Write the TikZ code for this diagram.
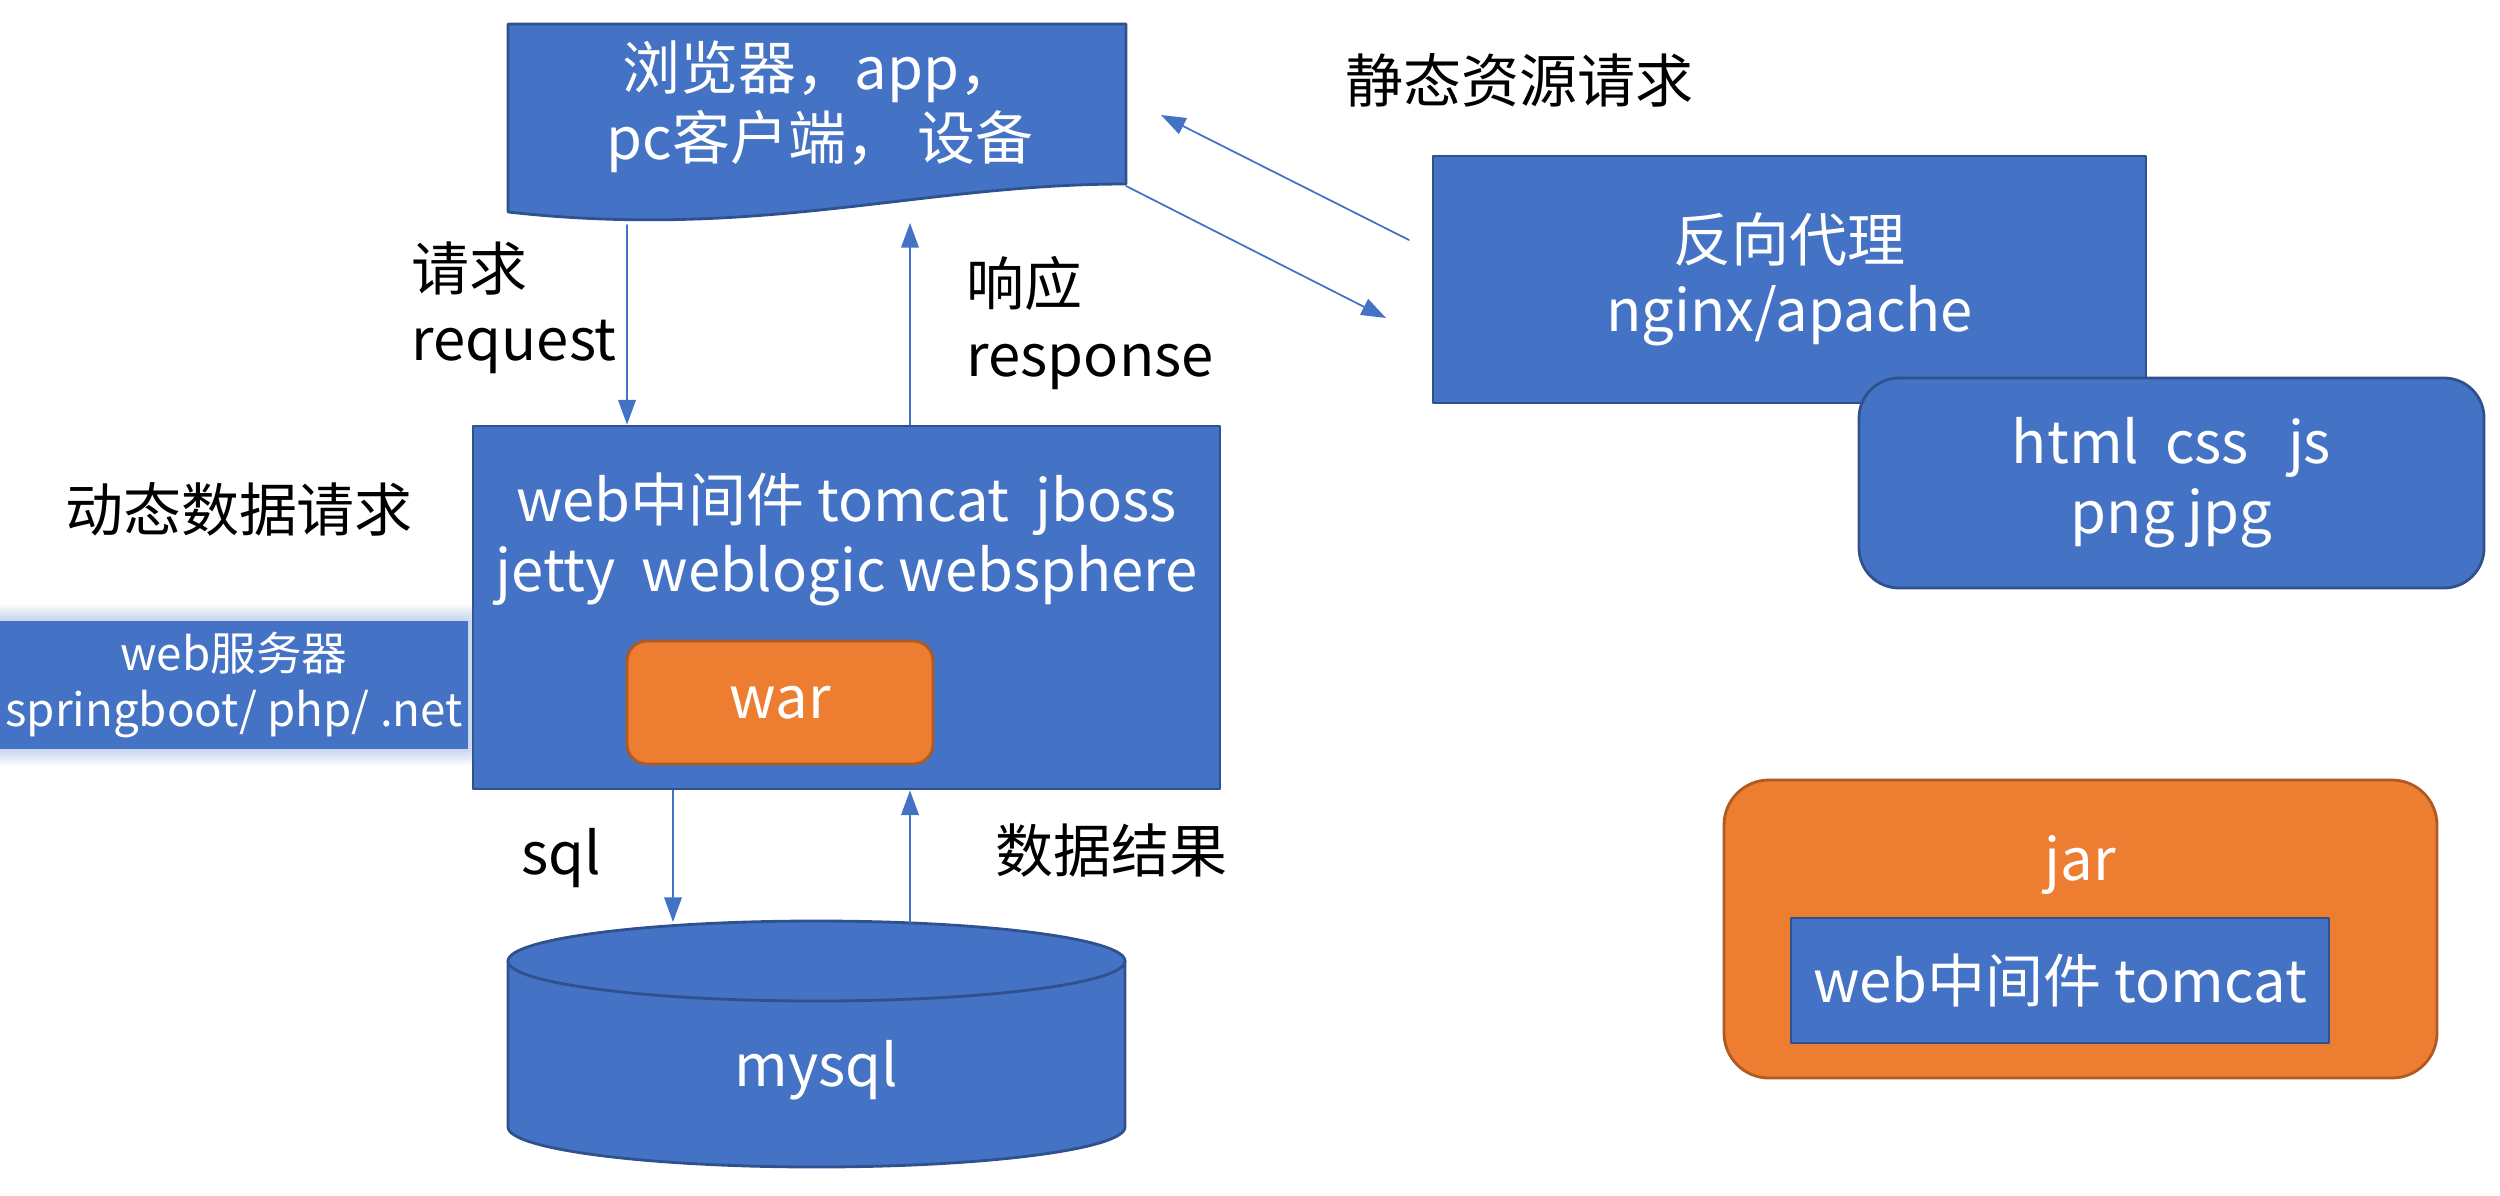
\documentclass[tikz,border=0pt]{standalone}
\usepackage{fontspec}
\setmainfont{Noto Sans CJK SC}
\usetikzlibrary{arrows.meta,calc}
\definecolor{boxblue}{HTML}{4472C4}
\definecolor{boxline}{HTML}{2F528F}
\definecolor{boxorange}{HTML}{ED7D31}
\definecolor{orangeline}{HTML}{AE5A21}
\tikzset{
	bluebox/.style={draw=boxline, fill=boxblue, line width=0.8pt, text=white, align=center, inner sep=0pt},
	orangebox/.style={draw=orangeline, fill=boxorange, line width=0.8pt, text=white, align=center, inner sep=0pt},
	whitetxt/.style={text=white, align=center, inner sep=0pt},
	lbl/.style={text=black, align=left, inner sep=0pt},
	arr/.style={draw=boxblue, line width=0.5pt, -{Triangle[length=7pt,width=5pt]}}
}
\begin{document}
\begin{tikzpicture}[font=\fontsize{16.5}{20}\selectfont, line join=round, line cap=round]
	\useasboundingbox (0,0) rectangle (25,-11.95);
	%% client (document shape)
	\draw[boxline, fill=boxblue, line width=0.8pt] (5.08,-0.24) -- (11.26,-0.24) -- (11.26,-1.84)
		.. controls (9.2,-1.84) and (7.6,-2.40) .. (5.08,-2.12) -- cycle;
	\node[whitetxt] (client) at (8.20,-1.07) {浏览器，app，\\pc客户端， 设备};
	%% reverse proxy
	\node[bluebox, minimum width=7.13cm, minimum height=2.47cm] (proxy) at (17.895,-2.795) {反向代理\\nginx/apache};
	\node[bluebox, rounded corners=0.4cm, minimum width=6.25cm, minimum height=2.10cm] (static) at (21.715,-4.83) {html\ \ css\ \ \ js\\png jpg};
	%% web middleware
	\node[bluebox, minimum width=7.47cm, minimum height=3.63cm] (mid) at (8.465,-6.075) {};
	\node[whitetxt] (midtxt) at ($(mid.north)+(0,-1.145)$) {web中间件 tomcat\ \ jboss\\jetty\ \ weblogic websphere};
	\node[orangebox, rounded corners=0.2cm, minimum width=3.06cm, minimum height=1.23cm] (war) at (7.80,-7.025) {war};
	%% web server (soft glow)
	\foreach \w in {9,7.5,6,4.5,3,1.5}
		\draw[boxblue, line width=\w pt, opacity=0.05, line join=round] (0,-6.21) rectangle (4.68,-7.49);
	\node[whitetxt, fill=boxblue, minimum width=4.68cm, minimum height=1.28cm, font=\fontsize{13}{16}\selectfont] (srv) at (2.34,-6.85) {web服务器\\springboot/ php/ .net};
	%% mysql
	\fill[boxblue] (5.08,-9.61) -- (5.08,-11.27) arc[start angle=180, end angle=360, x radius=3.085, y radius=0.40] -- (11.25,-9.61) -- cycle;
	\draw[boxline, line width=0.8pt] (5.08,-9.61) -- (5.08,-11.27) arc[start angle=180, end angle=360, x radius=3.085, y radius=0.40] -- (11.25,-9.61);
	\draw[boxline, fill=boxblue, line width=0.8pt] (8.165,-9.61) ellipse[x radius=3.085, y radius=0.40];
	\node[whitetxt] (db) at (8.165,-10.70) {mysql};
	\coordinate (dbtop) at (8.165,-9.21);
	%% jar
	\node[orangebox, rounded corners=0.45cm, minimum width=7.13cm, minimum height=2.98cm] (jar) at (20.805,-9.29) {};
	\node[whitetxt] (jartxt) at (20.80,-8.65) {jar};
	\node[bluebox, minimum width=5.38cm, minimum height=1.25cm] (inner) at (20.60,-9.805) {web中间件 tomcat};
	%% labels
	\node[lbl] (staticlbl) at (15.19,-0.80) {静态资源请求};
	\node[lbl, anchor=west] (reqlbl) at (4.11,-3.08) {请求\\request};
	\node[lbl, anchor=west] (resplbl) at (9.66,-3.23) {响应\\response};
	\node[lbl] (dynlbl) at (2.39,-5.09) {动态数据请求};
	\node[lbl] (sqllbl) at (5.61,-8.58) {sql};
	\node[lbl] (reslbl) at (11.11,-8.51) {数据结果};
	%% arrows
	\coordinate (reqtop) at (6.27,-2.25);
	\coordinate (resptop) at (9.10,-2.23);
	\coordinate (sqlx) at (6.73,0);
	\coordinate (resx) at (9.10,0);
	\draw[arr] (reqtop) -- (reqtop |- mid.north);
	\draw[arr] (resptop |- mid.north) -- (resptop);
	\draw[arr] (sqlx |- mid.south) -- ($(sqlx |- dbtop)+(0,-0.01)$);
	\draw[arr] ($(resx |- dbtop)+(0,-0.02)$) -- (resx |- mid.south);
	\coordinate (proxyin) at (14.09,-2.40);
	\coordinate (clientin) at (11.61,-1.15);
	\coordinate (clientout) at (11.26,-1.86);
	\coordinate (proxyout) at (13.86,-3.18);
	\draw[arr] (proxyin) -- (clientin);
	\draw[arr] (clientout) -- (proxyout);
\end{tikzpicture}
\end{document}
